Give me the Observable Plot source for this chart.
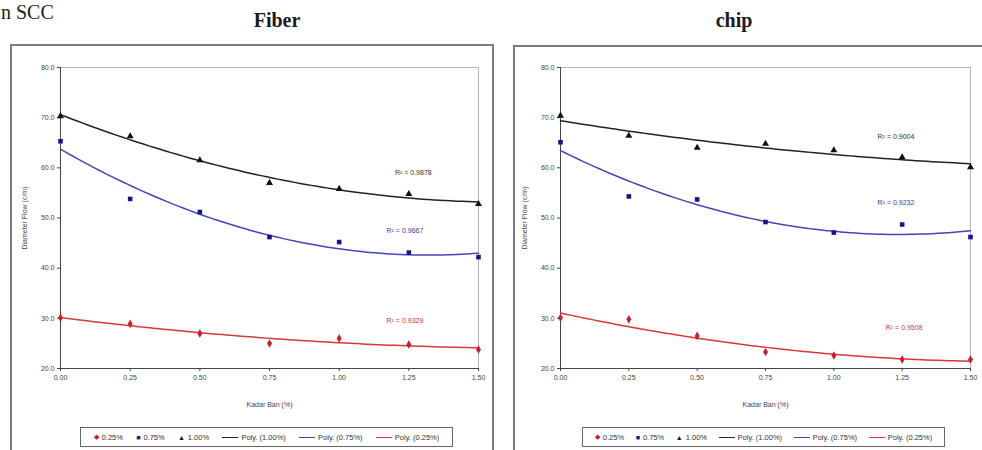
<!DOCTYPE html>
<html>
<head>
<meta charset="utf-8">
<script src="https://cdn.jsdelivr.net/npm/d3@7"></script>
<script src="https://cdn.jsdelivr.net/npm/@observablehq/plot@0.6"></script>
<style>
  html, body { margin: 0; padding: 0; background: #fff; }
  #root { position: relative; width: 982px; height: 450px; overflow: hidden; background: #fff; }
  .frame { position: absolute; border: 2px solid #7c7c7c; box-sizing: border-box; }
  .title { position: absolute; font-family: "Liberation Serif", "DejaVu Serif", serif; font-weight: bold; font-size: 20px; color: #1a1a1a; transform: translateX(-50%); white-space: nowrap; }
  .corner { position: absolute; font-family: "Liberation Serif", serif; font-size: 20px; line-height: 22px; color: #222; white-space: nowrap; }
  .plot { position: absolute; }
  .legend { position: absolute; height: 20px; border: 1.5px solid #666; box-sizing: border-box; display: flex; align-items: center; justify-content: space-around; padding: 0 6px; font-family: "Liberation Sans", Arial, sans-serif; font-size: 7.5px; color: #333; background: #fff; }
  .legend .it { display: flex; align-items: center; gap: 3px; white-space: nowrap; }
  .legend .ln { display: inline-block; width: 16px; height: 0; border-top-width: 1.2px; border-top-style: solid; }
</style>
</head>
<body>
<div id="root"></div>
<script>
// ---------- data ----------
const kadar = [0, 0.25, 0.5, 0.75, 1.0, 1.25, 1.5];
const seriesNames = ["0.25%", "0.75%", "1.00%"];
const fiber025 = [30.1, 28.9, 27.0, 25.0, 26.0, 24.8, 23.8];
const fiber075 = [65.3, 53.8, 51.2, 46.2, 45.2, 43.1, 42.2];
const fiber100 = [70.3, 66.3, 61.5, 57.0, 55.8, 54.8, 52.8];
const chip025 = [30.1, 29.8, 26.5, 23.3, 22.6, 21.8, 21.8];
const chip075 = [65.1, 54.3, 53.7, 49.2, 47.1, 48.7, 46.2];
const chip100 = [70.4, 66.4, 64.0, 64.8, 63.5, 62.1, 60.1];
const fiberR2 = ["R² = 0.9329", "R² = 0.9667", "R² = 0.9878"];
const chipR2 = ["R² = 0.9508", "R² = 0.9232", "R² = 0.9004"];
// annotation anchor (data coords) for each R² label: [kadar, diameter]
const fiberR2At = [[1.17, 29.6], [1.17, 47.5], [1.20, 59.1]];
const chipR2At = [[1.19, 28.2], [1.16, 53.1], [1.16, 66.2]];
const xTicks = [0, 0.25, 0.5, 0.75, 1.0, 1.25, 1.5];
const yTicks = [20, 30, 40, 50, 60, 70, 80];
const legendLabels = ["0.25%", "0.75%", "1.00%", "Poly. (1.00%)", "Poly. (0.75%)", "Poly. (0.25%)"];

// ---------- styles ----------
const dotColor = {"0.25%": "#c8202a", "0.75%": "#16168c", "1.00%": "#111"};
const lineColor = {"0.25%": "#d83838", "0.75%": "#4545b8", "1.00%": "#222"};
const symbolOf = {"0.25%": "diamond", "0.75%": "square", "1.00%": "triangle"};
const textColor = {"0.25%": "#c04040", "0.75%": "#3a3aa8", "1.00%": "#333"};

// quadratic least-squares trendline (like Excel "Poly." order 2)
function polyfit2(x, y) {
  const n = x.length;
  let s = [0,0,0,0,0], t = [0,0,0];
  for (let i = 0; i < n; i++) {
    for (let k = 0; k <= 4; k++) s[k] += Math.pow(x[i], k);
    for (let k = 0; k <= 2; k++) t[k] += y[i] * Math.pow(x[i], k);
  }
  const A = [[s[0], s[1], s[2], t[0]], [s[1], s[2], s[3], t[1]], [s[2], s[3], s[4], t[2]]];
  for (let i = 0; i < 3; i++) {
    for (let j = i + 1; j < 3; j++) {
      const f = A[j][i] / A[i][i];
      for (let k = i; k < 4; k++) A[j][k] -= f * A[i][k];
    }
  }
  const c = [0,0,0];
  for (let i = 2; i >= 0; i--) {
    let v = A[i][3];
    for (let k = i + 1; k < 3; k++) v -= A[i][k] * c[k];
    c[i] = v / A[i][i];
  }
  return (v) => c[0] + c[1] * v + c[2] * v * v;
}

function panel(seriesVals, r2Text, r2At, opts) {
  const pts = [];
  const fits = [];
  const labels = [];
  seriesVals.forEach((vals, si) => {
    const s = seriesNames[si];
    vals.forEach((v, i) => pts.push({x: kadar[i], y: v, s}));
    const f = polyfit2(kadar, vals);
    d3.range(0, 1.5001, 0.02).forEach(t => fits.push({x: t, y: f(t), s}));
    labels.push({x: r2At[si][0], y: r2At[si][1], text: r2Text[si], s});
  });
  const marks = [
    Plot.frame({stroke: "#b8b8b8", strokeWidth: 1}),
    Plot.axisX({ticks: xTicks, tickFormat: d3.format(".2f"), tickSize: 3, tickPadding: 4, label: "Kadar Ban (%)", labelArrow: false, labelAnchor: "center", labelOffset: 38, fontSize: 7, color: "#444"}),
    Plot.axisY({ticks: yTicks, tickFormat: d3.format(".1f"), tickSize: 3, tickPadding: 3, label: "Diameter Flow (c/m)", labelArrow: false, labelAnchor: "center", labelOffset: 38, fontSize: 7, color: "#444"}),
    Plot.ruleX([0], {stroke: "#444", strokeWidth: 1}),
    Plot.ruleY([20], {stroke: "#444", strokeWidth: 1})
  ];
  seriesNames.slice().reverse().forEach(s => {
    marks.push(Plot.line(fits.filter(d => d.s === s), {x: "x", y: "y", stroke: lineColor[s], strokeWidth: 1.5, curve: "natural"}));
  });
  seriesNames.forEach(s => {
    marks.push(Plot.dot(pts.filter(d => d.s === s), {x: "x", y: "y", symbol: symbolOf[s], fill: dotColor[s], stroke: "none", r: 2.6}));
  });
  marks.push(Plot.text(labels, {x: "x", y: "y", text: "text", fill: d => textColor[d.s], fontSize: 7, textAnchor: "start"}));
  return Plot.plot({
    width: opts.width, height: opts.height,
    marginLeft: opts.ml, marginRight: opts.mr, marginTop: opts.mt, marginBottom: opts.mb,
    style: {fontFamily: "'Liberation Sans', Arial, sans-serif", fontSize: "7px", color: "#333", background: "transparent", overflow: "visible"},
    x: {domain: [0, 1.5]},
    y: {domain: [20, 80]},
    marks
  });
}

function legend(left, top, width) {
  const el = document.createElement("div");
  el.className = "legend";
  el.style.left = left + "px"; el.style.top = top + "px"; el.style.width = width + "px";
  const glyph = {"0.25%": "◆", "0.75%": "■", "1.00%": "▲"};
  const polyOf = ["1.00%", "0.75%", "0.25%"];
  legendLabels.forEach((lab, i) => {
    const it = document.createElement("span");
    it.className = "it";
    if (i < 3) {
      const s = seriesNames[i];
      const g = document.createElement("span");
      g.textContent = glyph[s];
      g.style.color = dotColor[s];
      g.style.fontSize = "7px";
      it.appendChild(g);
    } else {
      const l = document.createElement("span");
      l.className = "ln";
      l.style.borderTopColor = lineColor[polyOf[i - 3]];
      it.appendChild(l);
    }
    const t = document.createElement("span");
    t.textContent = lab;
    it.appendChild(t);
    el.appendChild(it);
  });
  return el;
}

const root = document.getElementById("root");
function add(cls, left, top, w, h, text) {
  const d = document.createElement("div");
  d.className = cls;
  d.style.left = left + "px"; d.style.top = top + "px";
  if (w != null) d.style.width = w + "px";
  if (h != null) d.style.height = h + "px";
  if (text) d.textContent = text;
  root.appendChild(d);
  return d;
}

add("corner", 1, 1, null, null, "n SCC");
add("title", 277, 9, null, null, "Fiber");
add("title", 734, 9, null, null, "chip");
add("frame", 10, 44, 484, 430);
add("frame", 513, 45, 480, 430);

const p1 = panel([fiber025, fiber075, fiber100], fiberR2, fiberR2At, {width: 483, height: 375, ml: 50, mr: 15, mt: 22, mb: 52});
p1.classList.add("plot"); p1.style.left = "10px"; p1.style.top = "45px";
root.appendChild(p1);
const p2 = panel([chip025, chip075, chip100], chipR2, chipR2At, {width: 469, height: 375, ml: 47, mr: 12, mt: 22, mb: 52});
p2.classList.add("plot"); p2.style.left = "513px"; p2.style.top = "45px";
root.appendChild(p2);

root.appendChild(legend(80, 427, 373));
root.appendChild(legend(582, 427, 363));
</script>
</body>
</html>
